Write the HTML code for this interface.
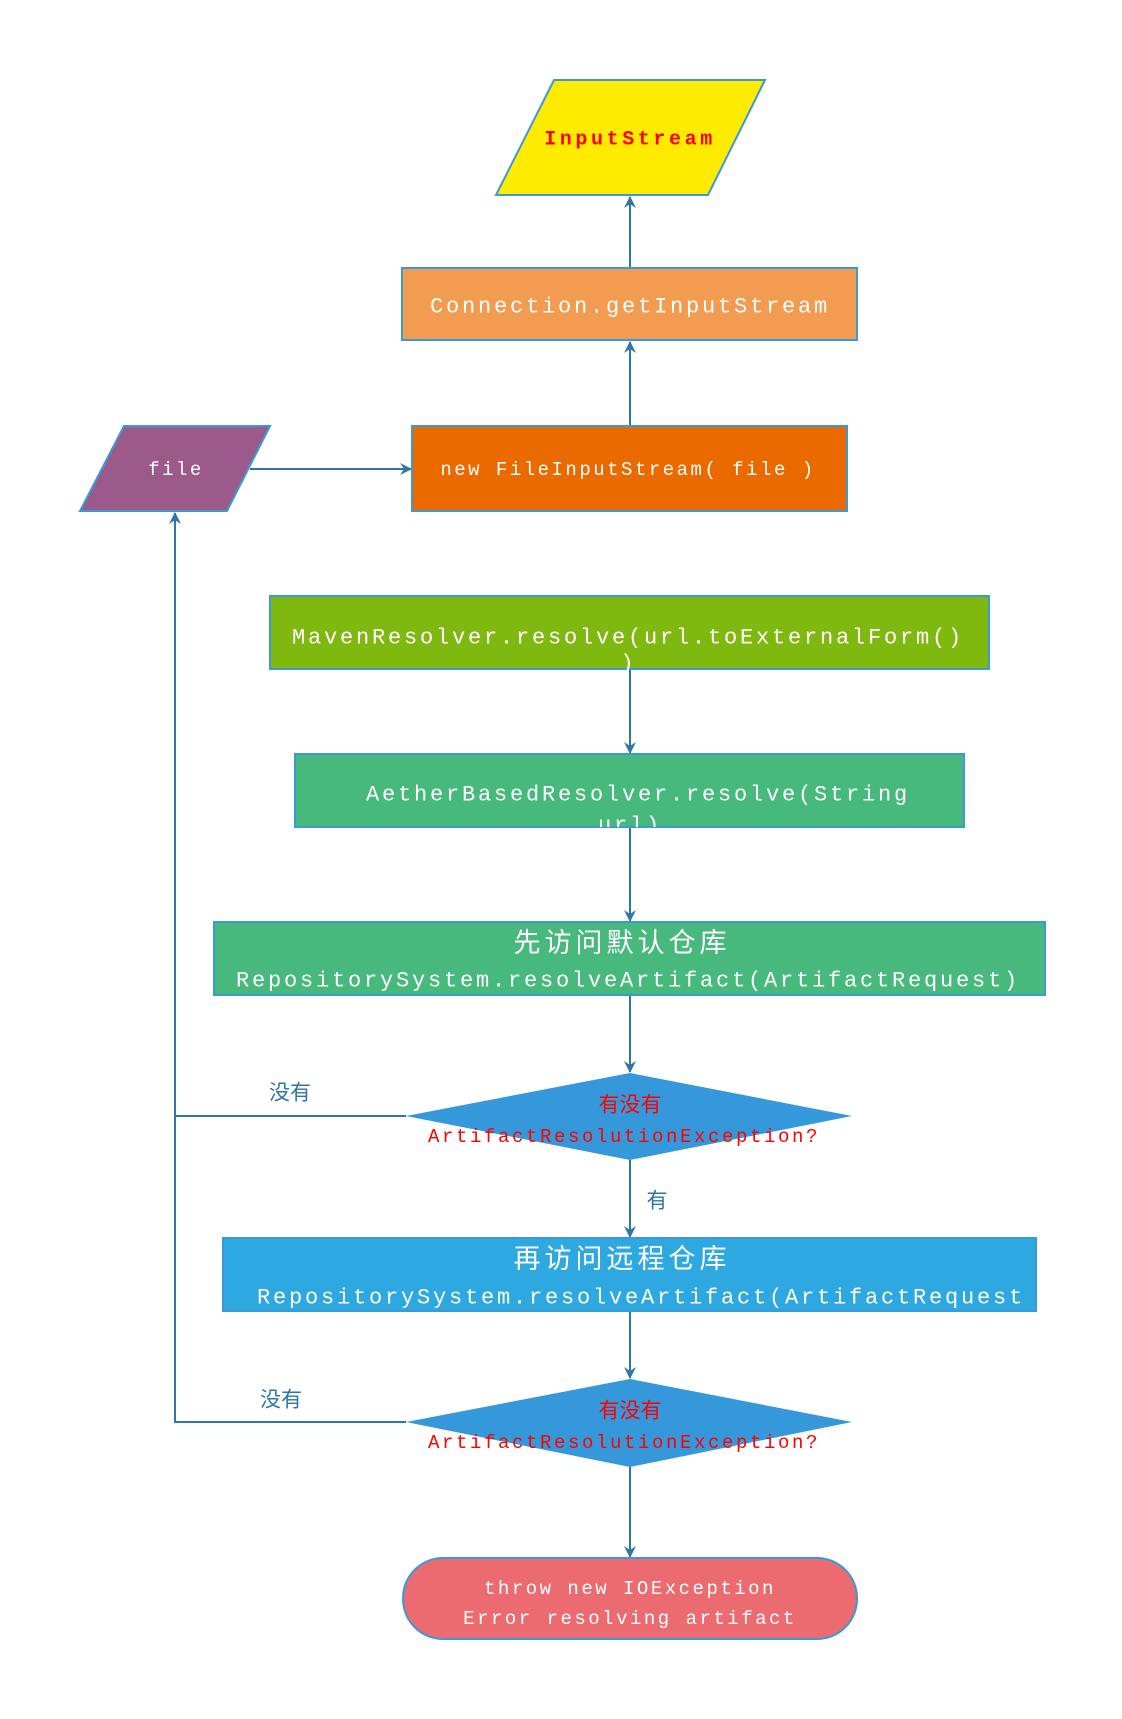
<!DOCTYPE html>
<html><head><meta charset="utf-8"><style>
html,body{margin:0;padding:0;background:#fff;}
svg text{font-family:"Liberation Mono","Noto Sans CJK SC",monospace;}
</style></head><body>
<svg width="1122" height="1714" viewBox="0 0 1122 1714" xmlns="http://www.w3.org/2000/svg">
<defs>
<marker id="a" markerWidth="12" markerHeight="12" refX="11" refY="6" orient="auto" markerUnits="userSpaceOnUse">
<path d="M0,0 L12,6 L0,12 L4,6 Z" fill="#2E75A8"/></marker>
<clipPath id="c1"><rect x="295" y="754" width="669" height="73"/></clipPath>
<clipPath id="c2"><rect x="223" y="1238" width="813" height="73"/></clipPath>
</defs>
<g stroke="#2E75A8" stroke-width="2" fill="none">
<line x1="630" y1="268" x2="630" y2="197" marker-end="url(#a)"/>
<line x1="630" y1="426" x2="630" y2="342" marker-end="url(#a)"/>
<line x1="250" y1="469" x2="411" y2="469" marker-end="url(#a)"/>
<line x1="630" y1="669" x2="630" y2="753" marker-end="url(#a)"/>
<line x1="630" y1="827" x2="630" y2="921" marker-end="url(#a)"/>
<line x1="630" y1="995" x2="630" y2="1072" marker-end="url(#a)"/>
<line x1="630" y1="1160" x2="630" y2="1237" marker-end="url(#a)"/>
<line x1="630" y1="1311" x2="630" y2="1378" marker-end="url(#a)"/>
<line x1="630" y1="1467" x2="630" y2="1557" marker-end="url(#a)"/>
<polyline points="406,1116 175,1116"/>
<polyline points="406,1422 175,1422 175,513" marker-end="url(#a)"/>
</g>
<g stroke="#3A9AD9" stroke-width="2">
<polygon points="554,80 765,80 708,195 496,195" fill="#FFEB00"/>
<rect x="402" y="268" width="455" height="72" fill="#F29C52"/>
<rect x="412" y="426" width="435" height="85" fill="#EB6A00"/>
<polygon points="124,426 270,426 227,511 80,511" fill="#9C5A8B"/>
<rect x="270" y="596" width="719" height="73" fill="#7FB80F"/>
<rect x="295" y="754" width="669" height="73" fill="#47B97C"/>
<rect x="214" y="922" width="831" height="73" fill="#47B97C"/>
<rect x="223" y="1238" width="813" height="73" fill="#2DA8E0"/>
<rect x="403" y="1558" width="454" height="81" rx="40" fill="#EB6B70"/>
</g>
<polygon points="630,1073 852,1116 630,1160 406,1116" fill="#3598DB"/>
<polygon points="630,1379 852,1422 630,1467 406,1422" fill="#3598DB"/>
<g text-anchor="middle" dominant-baseline="central">
<text x="630" y="140" fill="#FF0000" font-size="20" font-weight="bold" letter-spacing="3.6">InputStream</text>
<text x="630" y="307" fill="#fff" font-size="22" letter-spacing="2.8">Connection.getInputStream</text>
<text x="628" y="470" fill="#fff" font-size="19" letter-spacing="2.5">new FileInputStream( file )</text>
<text x="176" y="470" fill="#fff" font-size="19" letter-spacing="2.5">file</text>
<text x="628" y="638" fill="#fff" font-size="22" letter-spacing="2.8">MavenResolver.resolve(url.toExternalForm()</text>
<text x="627" y="664" fill="#fff" font-size="22">)</text>
<g clip-path="url(#c1)">
<text x="638" y="795" fill="#fff" font-size="22" letter-spacing="2.8">AetherBasedResolver.resolve(String</text>
<text x="630" y="826" fill="#fff" font-size="22" letter-spacing="2.8">url)</text>
</g>
<text x="622" y="946" fill="#fff" font-size="27" letter-spacing="4">先访问默认仓库</text>
<text x="628" y="981" fill="#fff" font-size="22" letter-spacing="2.8">RepositorySystem.resolveArtifact(ArtifactRequest)</text>
<g clip-path="url(#c2)">
<text x="622" y="1262" fill="#fff" font-size="27" letter-spacing="4">再访问远程仓库</text>
<text x="641" y="1298" fill="#fff" font-size="22" letter-spacing="2.8">RepositorySystem.resolveArtifact(ArtifactRequest</text>
</g>
<text x="630" y="1107" fill="#FF0000" font-size="21">有没有</text>
<text x="624" y="1137" fill="#FF0000" font-size="19" letter-spacing="2.6">ArtifactResolutionException?</text>
<text x="630" y="1413" fill="#FF0000" font-size="21">有没有</text>
<text x="624" y="1443" fill="#FF0000" font-size="19" letter-spacing="2.6">ArtifactResolutionException?</text>
<text x="290" y="1095" fill="#2E75A8" font-size="21">没有</text>
<text x="281" y="1402" fill="#2E75A8" font-size="21">没有</text>
<text x="657" y="1203" fill="#2E75A8" font-size="21">有</text>
<text x="630" y="1589" fill="#fff" font-size="19" letter-spacing="2.5">throw new IOException</text>
<text x="630" y="1619" fill="#fff" font-size="19" letter-spacing="2.5">Error resolving artifact</text>
</g>
</svg>
</body></html>
